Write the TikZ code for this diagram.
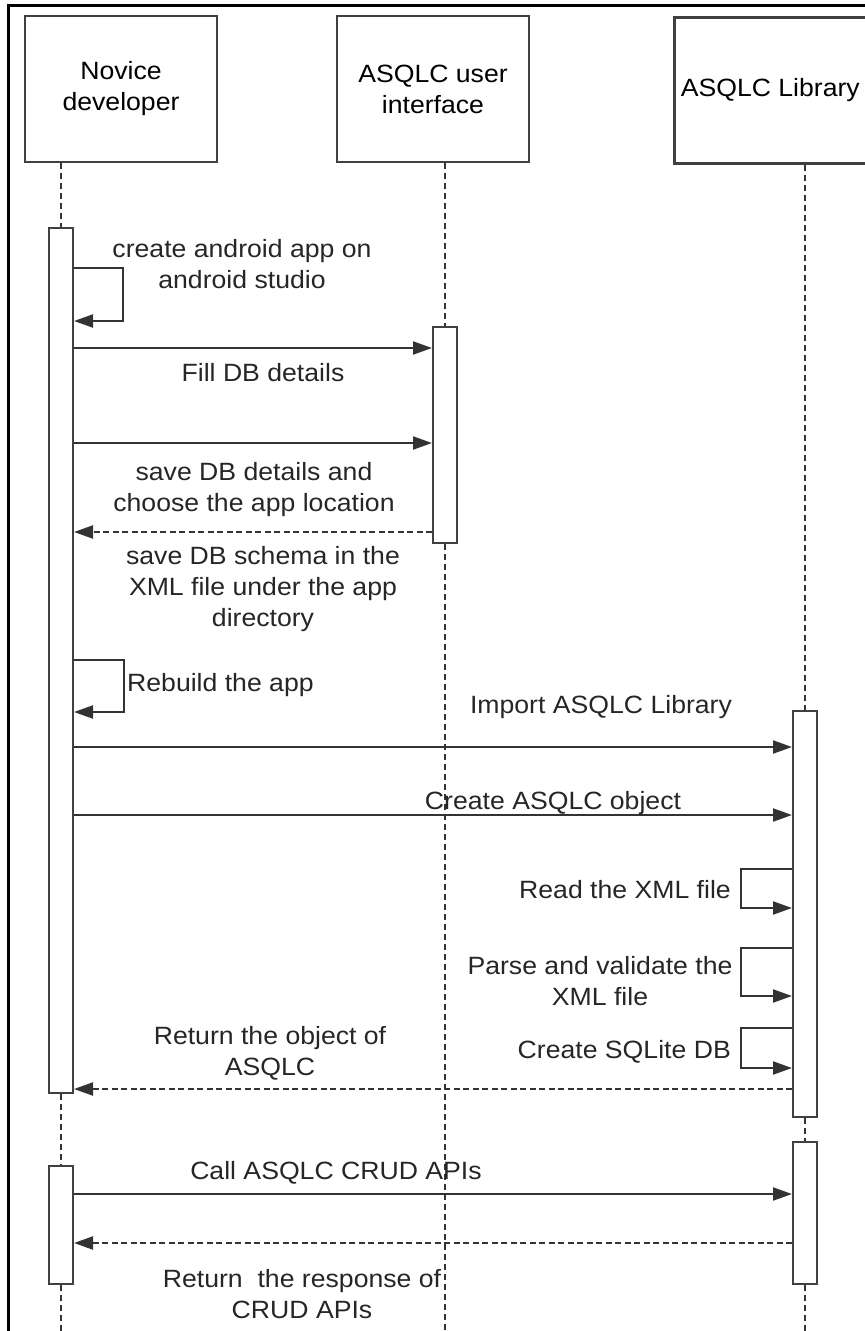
\documentclass[tikz,border=0pt]{standalone}
\usepackage{fontspec}
\setmainfont{Liberation Sans}[FakeStretch=1.065]
\usetikzlibrary{arrows.meta}

\begin{document}
\begin{tikzpicture}[
  x=1pt, y=-1pt,
  font=\fontsize{25}{31}\selectfont,
  line join=miter,
  participant/.style={draw=black!75, line width=2.6pt, fill=white,
    minimum width=192pt, minimum height=146pt, inner sep=0pt, align=center},
  act/.style={draw=black!75, line width=2pt, fill=white,
    minimum width=24pt, inner sep=0pt},
  lifeline/.style={black!80, line width=1.4pt, dash pattern=on 6pt off 4pt},
  msg/.style={black!80, line width=2.2pt, -{Triangle[length=19pt,width=13pt]}},
  reply/.style={msg, dash pattern=on 6pt off 3.5pt},
  lbl/.style={text=black!85, align=center, inner sep=0pt}
]
  \useasboundingbox (0,0) rectangle (865,1331);

  % frame
  \draw[line width=3pt] (8,1331) -- (8,5) -- (866,5);

  % participants
  \node[participant] (dev) at (121,89) {Novice\\developer};
  \node[participant] (ui) at (433,89) {ASQLC user\\interface};
  \node[participant, anchor=north west] (lib) at (673,16) {ASQLC Library};

  % activation bars
  \node[act, minimum height=865pt] (devact1) at (61,660.5) {};
  \node[act, minimum height=216pt] (uiact) at (445,435) {};
  \node[act, minimum height=406pt] (libact1) at (805,914) {};
  \node[act, minimum height=142pt] (libact2) at (805,1213) {};
  \node[act, minimum height=118pt] (devact2) at (61,1225) {};

  % lifeline ends
  \coordinate (devEnd) at (61,1331);
  \coordinate (uiEnd) at (445,1331);
  \coordinate (libEnd) at (805,1331);

  % lifelines
  \draw[lifeline] (dev.south -| devact1.north) -- (devact1.north);
  \draw[lifeline] (devact1.south) -- (devact2.north);
  \draw[lifeline] (devact2.south) -- (devEnd);
  \draw[lifeline] (ui.south -| uiact.north) -- (uiact.north);
  \draw[lifeline] (uiact.south) -- (uiEnd);
  \draw[lifeline] (lib.south -| libact1.north) -- (libact1.north);
  \draw[lifeline] (libact1.south) -- (libact2.north);
  \draw[lifeline] (libact2.south) -- (libEnd);

  % message rows
  \coordinate (y1) at (0,268);  \coordinate (y1e) at (0,321);
  \coordinate (y2) at (0,348);
  \coordinate (y3) at (0,443);
  \coordinate (y4) at (0,532);
  \coordinate (y5) at (0,660);  \coordinate (y5e) at (0,712);
  \coordinate (y6) at (0,747);
  \coordinate (y7) at (0,815);
  \coordinate (y8) at (0,869);  \coordinate (y8e) at (0,908);
  \coordinate (y9) at (0,948);  \coordinate (y9e) at (0,996);
  \coordinate (y10) at (0,1028); \coordinate (y10e) at (0,1068);
  \coordinate (y11) at (0,1089);
  \coordinate (y12) at (0,1194);
  \coordinate (y13) at (0,1243);

  % developer side
  \draw[msg] (devact1.east |- y1) -- ++(49,0) |- (devact1.east |- y1e);
  \draw[msg] (devact1.east |- y2) -- (uiact.west |- y2);
  \draw[msg] (devact1.east |- y3) -- (uiact.west |- y3);
  \draw[reply] (uiact.west |- y4) -- (devact1.east |- y4);
  \draw[msg] (devact1.east |- y5) -- ++(50,0) |- (devact1.east |- y5e);
  \draw[msg] (devact1.east |- y6) -- (libact1.west |- y6);
  \draw[msg] (devact1.east |- y7) -- (libact1.west |- y7);

  % library side
  \draw[msg] (libact1.west |- y8) -- ++(-51,0) |- (libact1.west |- y8e);
  \draw[msg] (libact1.west |- y9) -- ++(-51,0) |- (libact1.west |- y9e);
  \draw[msg] (libact1.west |- y10) -- ++(-51,0) |- (libact1.west |- y10e);
  \draw[reply] (libact1.west |- y11) -- (devact1.east |- y11);
  \draw[msg] (devact2.east |- y12) -- (libact2.west |- y12);
  \draw[reply] (libact2.west |- y13) -- (devact2.east |- y13);

  % labels
  \node[lbl] (tcreate) at (242,264) {create android app on\\android studio};
  \node[lbl] (tfill) at (263,373) {Fill DB details};
  \node[lbl] (tsave) at (254,490) {save DB details and\\choose the app location};
  \node[lbl] (tschema) at (263,589) {save DB schema in the\\XML file under the app\\directory};
  \node[lbl, anchor=west] (trebuild) at (127,685) {Rebuild the app};
  \node[lbl] (timport) at (601,707) {Import ASQLC Library};
  \node[lbl] (tobject) at (553,803) {Create ASQLC object};
  \node[lbl, anchor=east] (tread) at (731,890) {Read the XML file};
  \node[lbl] (tparse) at (600,981) {Parse and validate the\\XML file};
  \node[lbl, anchor=east] (tsqlite) at (731,1052) {Create SQLite DB};
  \node[lbl] (treturn) at (270,1053) {Return the object of\\ASQLC};
  \node[lbl] (tcall) at (336,1173) {Call ASQLC CRUD APIs};
  \node[lbl] (tresponse) at (302,1294) {Return~ the response of\\CRUD APIs};

\end{tikzpicture}
\end{document}
